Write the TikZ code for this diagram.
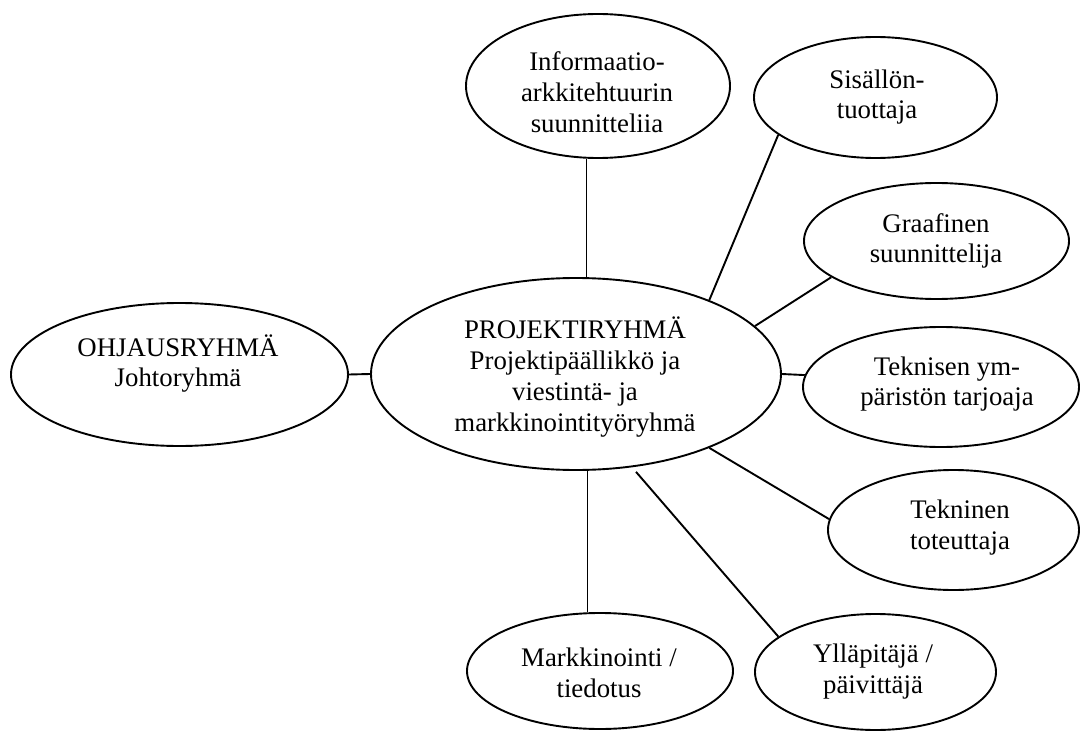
\documentclass[tikz,border=0pt]{standalone}
\usepackage{fontspec}
\setmainfont{Liberation Serif}
\usetikzlibrary{shapes.geometric}
\begin{document}
\begin{tikzpicture}[x=1bp,y=-1bp,
  bub/.style={draw, ellipse, line width=1.9bp, inner sep=0pt},
  txt/.style={inner sep=0pt, align=center, font=\fontsize{26.8bp}{30.8bp}\selectfont},
  link/.style={line width=1.9bp}]
\useasboundingbox (0,0) rectangle (1083,731);
% ellipses
\node[bub, minimum width=337bp, minimum height=143bp] (ohj) at (179.5,374.5) {};
\node[bub, minimum width=410bp, minimum height=192bp] (cen) at (576,374) {};
\node[bub, minimum width=264bp, minimum height=144bp] (info) at (598,86) {};
\node[bub, minimum width=243bp, minimum height=121bp] (sis) at (875.5,97.5) {};
\node[bub, minimum width=265bp, minimum height=116bp] (gra) at (936.5,241) {};
\node[bub, minimum width=276bp, minimum height=120bp] (tek1) at (941,387) {};
\node[bub, minimum width=251bp, minimum height=120bp] (tek2) at (953.5,530) {};
\node[bub, minimum width=266bp, minimum height=116bp] (mar) at (600,671) {};
\node[bub, minimum width=241bp, minimum height=116bp] (yll) at (875.5,672) {};
% texts
\node[txt] (ohjt) at (178,363.5) {OHJAUSRYHMÄ\\Johtoryhmä};
\node[txt] (cent) at (575,377) {PROJEKTIRYHMÄ\\Projektipäällikkö ja\\viestintä- ja\\markkinointityöryhmä};
\node[txt] (infot) at (597,92) {Informaatio-\\arkkitehtuurin\\suunnitteliia};
\node[txt] (sist) at (877,97) {Sisällön-\\tuottaja};
\node[txt] (grat) at (936,241) {Graafinen\\suunnittelija};
\node[txt] (tek1t) at (947,384) {Teknisen ym-\\päristön tarjoaja};
\node[txt] (tek2t) at (960,527.5) {Tekninen\\toteuttaja};
\node[txt] (mart) at (599,672.5) {Markkinointi /\\tiedotus};
\node[txt] (yllt) at (873,671.5) {Ylläpitäjä /\\päivittäjä};
% connectors
\draw[link] (ohj.east) -- (cen.west);
\draw[link] (info.261) -- (info.261 |- cen.north);
\draw[link] (sis.201) -- (cen.29);
\draw[link] (gra.199) -- (cen.15);
\draw[link] (cen.east) -- (tek1.175);
\draw[link] (cen.331) -- (tek2.175);
\draw[link] (mar.102) -- (mar.102 |- cen.south);
\draw[link, shorten <=6bp] (cen.301) -- (yll.160);
\end{tikzpicture}
\end{document}
